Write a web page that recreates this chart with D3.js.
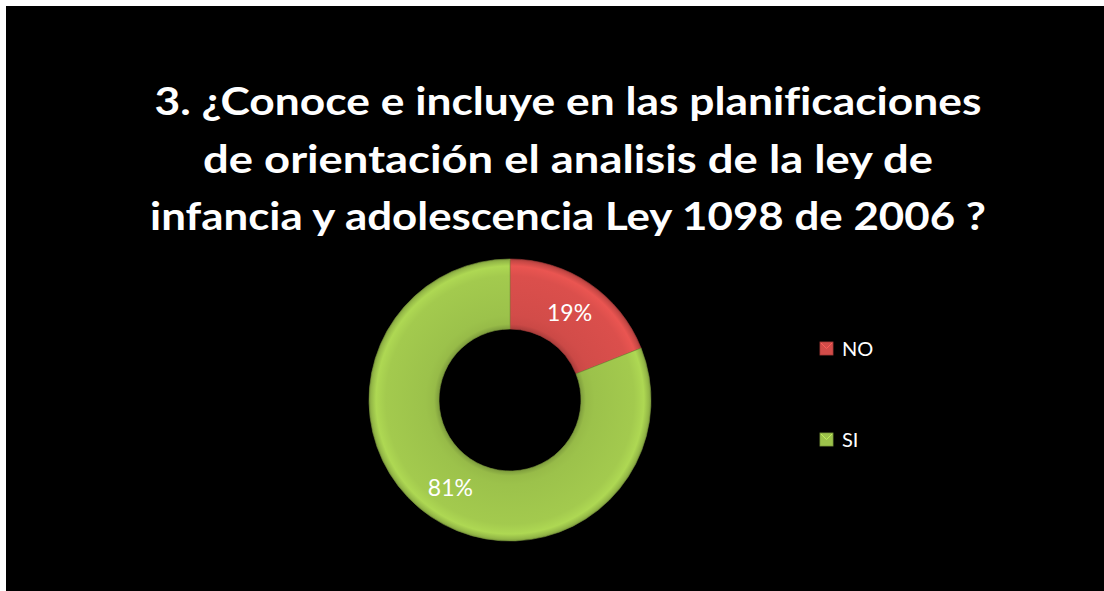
<!DOCTYPE html>
<html>
<head>
<meta charset="utf-8">
<script src="https://cdn.jsdelivr.net/npm/d3@7"></script>
<style>
  html, body { margin: 0; padding: 0; background: #fff; }
  svg { display: block; }
</style>
</head>
<body>
<script>
const width = 1104;
const height = 591;

// datos
const categorias = ["NO", "SI"];
const valores = [19, 81];
const colores = ["#d24c49", "#9cc24b"];
const titulo = [
  "3. ¿Conoce e incluye en las planificaciones",
  "de orientación el analisis de la ley de",
  "infancia y adolescencia Ley 1098 de 2006 ?"
];
const anchosTitulo = [827, 730, 836]; // ancho de cada linea en la imagen

const cx = 510, cy = 400;
const outerRadius = 141;
const innerRadius = 71;
const fuente = "Lato, 'Open Sans', sans-serif";

const svg = d3.select("body")
  .append("svg")
  .attr("width", width)
  .attr("height", height);

// fondo negro con borde blanco
svg.append("rect")
  .attr("x", 6).attr("y", 6)
  .attr("width", width - 6).attr("height", height - 6)
  .attr("fill", "#000");

// Titulo
svg.append("g")
  .selectAll("text")
  .data(titulo)
  .join("text")
  .attr("x", 568)
  .attr("y", (d, i) => 115 + i * 57.5)
  .attr("text-anchor", "middle")
  .attr("textLength", (d, i) => anchosTitulo[i])
  .attr("lengthAdjust", "spacingAndGlyphs")
  .style("font-family", fuente)
  .style("font-weight", "bold")
  .style("font-size", "39px")
  .style("font-variant-ligatures", "none")
  .attr("fill", "#fff")
  .text(d => d);

const defs = svg.append("defs");

// gradientes con efecto bisel
const color = d3.scaleOrdinal().domain(categorias).range(colores);
categorias.forEach(c => {
  const base = d3.rgb(color(c));
  const grad = defs.append("radialGradient")
    .attr("id", "grad-" + c)
    .attr("gradientUnits", "userSpaceOnUse")
    .attr("cx", cx).attr("cy", cy).attr("r", outerRadius)
    .attr("fx", cx).attr("fy", cy);
  const f = innerRadius / outerRadius;
  [
    [0, base.darker(0.6)],
    [f, base.darker(0.6)],
    [f + 0.035, base.darker(0.1)],
    [0.6, base],
    [0.88, base.brighter(0.12)],
    [0.95, base.brighter(0.3)],
    [0.985, base.darker(0.15)],
    [1, base.darker(0.6)]
  ].forEach(([o, col]) => {
    grad.append("stop").attr("offset", o).attr("stop-color", d3.rgb(col).formatHex());
  });
});

const pie = d3.pie().value(d => d.valor).sort(null);
const arc = d3.arc().innerRadius(innerRadius).outerRadius(outerRadius);

const datos = categorias.map((c, i) => ({categoria: c, valor: valores[i]}));
const total = d3.sum(valores);

// sectores (el gradiente usa coordenadas absolutas)
svg.append("g")
  .selectAll("path")
  .data(pie(datos))
  .join("path")
  .attr("d", d => {
    const p = d3.path();
    const a0 = d.startAngle - Math.PI / 2, a1 = d.endAngle - Math.PI / 2;
    p.arc(cx, cy, outerRadius, a0, a1);
    p.arc(cx, cy, innerRadius, a1, a0, true);
    p.closePath();
    return p.toString();
  })
  .attr("fill", d => `url(#grad-${d.data.categoria})`)
  .attr("stroke", d => d3.rgb(color(d.data.categoria)).darker(0.7))
  .attr("stroke-width", 0.6);

// etiquetas de porcentaje
const g = svg.append("g")
  .attr("transform", `translate(${cx}, ${cy})`);

g.selectAll("text")
  .data(pie(datos))
  .join("text")
  .attr("transform", d => `translate(${arc.centroid(d)})`)
  .attr("text-anchor", "middle")
  .attr("dy", "0.36em")
  .style("font-family", fuente)
  .style("font-size", "23px")
  .attr("fill", "#fff")
  .text(d => Math.round(d.data.valor / total * 100) + "%");

// Leyenda
const leyenda = svg.append("g")
  .selectAll("g")
  .data(categorias)
  .join("g")
  .attr("transform", (d, i) => `translate(820, ${342 + i * 91})`);

leyenda.append("rect")
  .attr("width", 13)
  .attr("height", 13)
  .attr("fill", d => color(d))
  .attr("stroke", d => d3.rgb(color(d)).darker(0.6))
  .attr("stroke-width", 0.8);

leyenda.append("path")
  .attr("d", "M1,1 L6.5,6.5 L12,1")
  .attr("fill", "none")
  .attr("stroke", d => d3.rgb(color(d)).brighter(0.6))
  .attr("stroke-width", 1);

leyenda.append("text")
  .attr("x", 22)
  .attr("y", 14)
  .style("font-family", fuente)
  .style("font-size", "20px")
  .attr("fill", "#fff")
  .text(d => d);
</script>
</body>
</html>
